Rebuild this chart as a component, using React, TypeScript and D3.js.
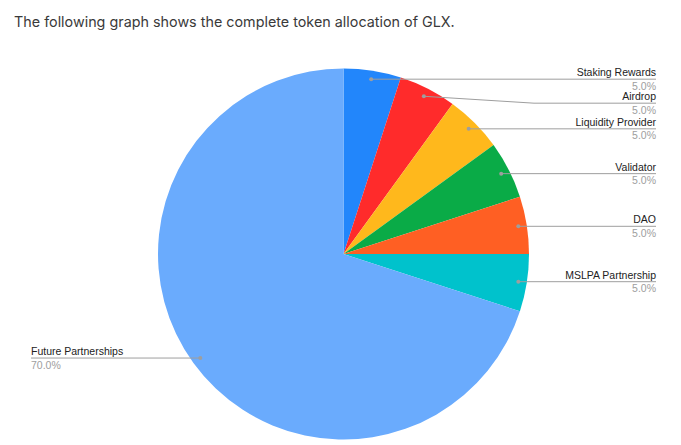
import React from "react";
import * as d3 from "d3";

const categories = [
  "Staking Rewards",
  "Airdrop",
  "Liquidity Provider",
  "Validator",
  "DAO",
  "MSLPA Partnership",
  "Future Partnerships",
];
const values = [5, 5, 5, 5, 5, 5, 70];
const colors = ["#2286fb", "#ff2b2b", "#ffb81c", "#0aab47", "#ff5f23", "#00c2cc", "#6aabfd"];
const title = "The following graph shows the complete token allocation of GLX.";

const W = 681;
const H = 445;
const cx = 343.5;
const cy = 254;
const R = 185.5;
const dotR = 177;
const rightEnd = 656;
const rightElbow = 534;
const leftEnd = 31;
const leftElbow = 153;
const minGap = 24;

export default function App() {
  const total = d3.sum(values);
  const pie = d3.pie<number>().sort(null).value((d) => d)(values);
  const arc = d3.arc<d3.PieArcDatum<number>>().innerRadius(0).outerRadius(R);

  let prevRightY = -Infinity;
  const labels = pie.map((p, i) => {
    const mid = (p.startAngle + p.endAngle) / 2;
    const dx = cx + dotR * Math.sin(mid);
    const dy = cy - dotR * Math.cos(mid);
    const right = Math.sin(mid) >= 0;
    let ly = dy;
    if (right) {
      ly = Math.max(dy, prevRightY + minGap);
      prevRightY = ly;
    }
    return { i, dx, dy, ly, right, pct: ((values[i] / total) * 100).toFixed(1) + "%" };
  });

  return (
    <svg width={W} height={H} style={{ position: "absolute", left: 0, top: 0 }}>
      <rect width={W} height={H} fill="#fff" />
      <text x={14} y={27} fontFamily="Inter, Roboto, sans-serif" fontSize={14.35} fill="#3a3a3a">
        {title}
      </text>
      <g transform={`translate(${cx},${cy})`}>
        {pie.map((p, i) => (
          <path key={i} d={arc(p) || ""} fill={colors[i]} />
        ))}
      </g>
      {labels.map((l) => {
        const elbow = l.right ? rightElbow : leftElbow;
        const end = l.right ? rightEnd : leftEnd;
        const anchor = l.right ? "end" : "start";
        return (
          <g key={l.i} fontFamily="'Liberation Sans', Arial, sans-serif" fontSize={10.5}>
            <polyline
              points={`${l.dx},${l.dy} ${elbow},${l.ly} ${end},${l.ly}`}
              fill="none"
              stroke="#9e9e9e"
              strokeWidth={1}
            />
            <circle cx={l.dx} cy={l.dy} r={2} fill="#9e9e9e" />
            <text x={end} y={l.ly - 3} textAnchor={anchor} fill="#222">
              {categories[l.i]}
            </text>
            <text x={end} y={l.ly + 10.5} textAnchor={anchor} fill="#9e9e9e">
              {l.pct}
            </text>
          </g>
        );
      })}
    </svg>
  );
}
